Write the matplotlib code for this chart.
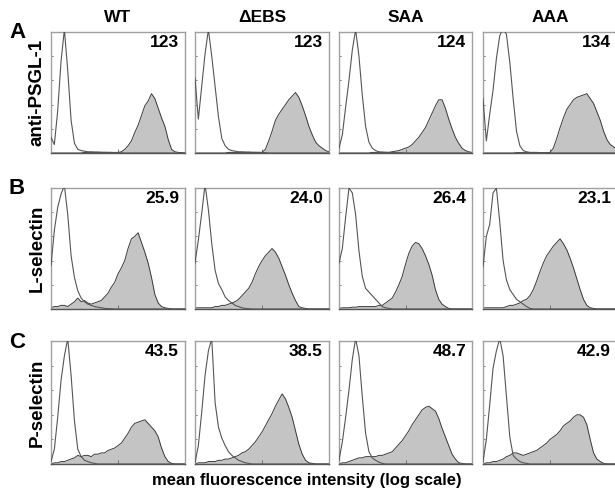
import numpy as np
import matplotlib.pyplot as plt

plt.rcParams['font.family'] = ['Liberation Sans', 'DejaVu Sans']

# histogram bins: log10 of fluorescence intensity, 4 decades
log_bins = np.round(np.arange(0, 4.01, 0.1), 1)

genotypes = ['WT', '\u0394EBS', 'SAA', 'AAA']
stains = ['anti-PSGL-1', 'L-selectin', 'P-selectin']
row_letters = ['A', 'B', 'C']

# mean fluorescence intensity printed in each panel
mfi_psgl = ['123', '123', '124', '134']
mfi_lsel = ['25.9', '24.0', '26.4', '23.1']
mfi_psel = ['43.5', '38.5', '48.7', '42.9']

# cell counts per bin, % of panel height (control = open, stained = grey)
wt_psgl_ctrl = [13, 7, 35, 76, 102, 68, 27, 8, 3, 2,
                1.5, 1, 1, 0.8, 0.8, 0.6, 0.6, 0.5, 0.5, 0.3,
                0.3, 0.2]
wt_psgl = [0, 0, 0, 0, 0, 0, 0, 0, 0, 0,
           0.5, 0.5, 0.5, 0.5, 0.5, 0.5, 0.5, 0.5, 0.5, 0.5,
           0.5, 1, 3, 6, 10, 17, 23, 31, 39, 43,
           49, 45, 37, 29, 22, 11, 3, 1, 0.5, 0.3]
debs_psgl_ctrl = [62, 28, 55, 82, 102, 80, 55, 30, 12, 6,
                  3, 2, 1.5, 1, 1, 0.8, 0.8, 0.6, 0.6, 0.5,
                  0.5, 0.3]
debs_psgl = [0, 0, 0, 0, 0, 0, 0, 0, 0, 0,
             0.5, 0.5, 0.5, 0.5, 0.5, 0.5, 0.5, 0.5, 0.5, 0.5,
             0.5, 3, 10, 18, 27, 32, 36, 40, 44, 47,
             50, 46, 39, 31, 22, 15, 9, 6, 4, 2,
             1]
saa_psgl_ctrl = [4, 15, 38, 60, 85, 102, 80, 48, 22, 9,
                 4, 2, 1, 0.8, 0.6, 0.5, 0.5, 0.3, 0.3, 0.2]
saa_psgl = [0, 0, 0, 0, 0, 0, 0, 0, 0, 0,
            0.5, 0.5, 0.5, 0.5, 0.5, 0.5, 1, 1.5, 2, 3,
            4, 5, 7, 10, 13, 17, 21, 27, 33, 39,
            44, 44, 37, 28, 20, 13, 8, 4, 2, 1,
            0.5]
aaa_psgl_ctrl = [45, 10, 32, 52, 78, 97, 103, 98, 75, 45,
                 18, 6, 2, 1, 0.5, 0.5, 0.5, 0.3, 0.3, 0.3]
aaa_psgl = [0, 0, 0, 0, 0, 0, 0, 0, 0, 0,
            0.3, 0.3, 0.3, 0.3, 0.3, 0.3, 0.3, 0.3, 0.3, 0.3,
            0.5, 4, 12, 21, 29, 36, 40, 44, 46, 47,
            48, 49, 45, 41, 34, 27, 18, 11, 7, 5,
            3]

wt_lsel_ctrl = [36, 65, 84, 95, 102, 78, 44, 26, 15, 9,
                6, 4, 3, 2, 1.5, 1, 0.5, 0.3, 0.2]
wt_lsel = [1, 2, 2, 3, 3, 2, 4, 6, 9, 6,
           7, 5, 4, 5, 6, 7, 10, 13, 18, 22,
           29, 34, 40, 50, 58, 60, 63, 55, 47, 38,
           26, 12, 5, 2, 1, 0.5]
debs_lsel_ctrl = [38, 57, 79, 103, 82, 54, 32, 21, 16, 10,
                  7, 5, 3, 2, 1, 0.5, 0.3]
debs_lsel = [1, 1, 1, 1, 1, 1, 2, 2, 3, 3,
             4, 5, 6, 8, 11, 14, 17, 22, 29, 35,
             40, 44, 47, 50, 47, 42, 35, 28, 20, 13,
             7, 2, 1, 0.5]
saa_lsel_ctrl = [38, 50, 76, 100, 96, 78, 48, 27, 17, 14,
                 11, 8, 5, 2, 1, 0.5]
saa_lsel = [0.5, 1, 1, 1, 1.5, 1.5, 2, 2, 2, 2,
            2, 2, 3, 3, 5, 7, 9, 14, 20, 27,
            37, 46, 52, 55, 54, 50, 44, 37, 28, 16,
            8, 4, 2, 0.5]
aaa_lsel_ctrl = [35, 60, 70, 96, 100, 72, 40, 24, 16, 12,
                 8, 6, 4, 2, 0.5]
aaa_lsel = [1, 1, 1, 1, 1, 1, 1, 2, 3, 3,
            4, 5, 7, 8, 11, 16, 23, 31, 38, 44,
            48, 52, 55, 58, 54, 49, 42, 34, 25, 16,
            8, 3, 1, 0.5]

wt_psel_ctrl = [2, 12, 38, 68, 88, 102, 72, 35, 12, 6,
                3, 2, 1, 0.5]
wt_psel = [0, 1, 1, 2, 2, 3, 4, 5, 7, 6,
           7, 7, 6, 8, 8, 9, 9, 11, 12, 13,
           15, 17, 21, 25, 30, 33, 34, 35, 36, 33,
           30, 27, 22, 13, 6, 2, 0.5]
debs_psel_ctrl = [1, 15, 42, 72, 92, 102, 50, 30, 21, 15,
                  10, 7, 5, 3, 2, 1, 0.5]
debs_psel = [0, 1, 1, 1, 2, 2, 2, 3, 3, 4,
             4, 5, 6, 7, 9, 10, 12, 15, 18, 22,
             26, 31, 36, 41, 47, 52, 57, 53, 46, 38,
             27, 16, 8, 3, 1, 0.5]
saa_psel_ctrl = [3, 18, 38, 60, 85, 102, 88, 55, 25, 10,
                 5, 3, 1.5, 0.5]
saa_psel = [0, 1, 1, 2, 3, 4, 5, 5, 6, 6,
            6, 6, 7, 7, 8, 9, 10, 13, 16, 19,
            23, 27, 32, 36, 40, 44, 46, 47, 45, 43,
            37, 29, 22, 15, 8, 4, 1, 0.5]
aaa_psel_ctrl = [2, 20, 48, 78, 92, 102, 88, 55, 22, 7,
                 4, 2, 1, 0.5]
aaa_psel = [0, 1, 1, 2, 2, 3, 4, 6, 7, 9,
            9, 8, 7, 8, 9, 10, 11, 13, 15, 17,
            20, 22, 24, 27, 31, 33, 35, 38, 40, 40,
            38, 32, 20, 9, 4, 2, 0.5]


def to_bins(values):
    """ pad a list of counts with empty bins up to the full range """
    v = np.zeros(len(log_bins))
    v[:len(values)] = values
    return v


panels = [
    [(wt_psgl_ctrl, wt_psgl), (debs_psgl_ctrl, debs_psgl),
     (saa_psgl_ctrl, saa_psgl), (aaa_psgl_ctrl, aaa_psgl)],
    [(wt_lsel_ctrl, wt_lsel), (debs_lsel_ctrl, debs_lsel),
     (saa_lsel_ctrl, saa_lsel), (aaa_lsel_ctrl, aaa_lsel)],
    [(wt_psel_ctrl, wt_psel), (debs_psel_ctrl, debs_psel),
     (saa_psel_ctrl, saa_psel), (aaa_psel_ctrl, aaa_psel)],
]
mfi = [mfi_psgl, mfi_lsel, mfi_psel]

W, H = 615, 491
fig = plt.figure(figsize=(W / 100, H / 100), dpi=100)

col_left = [51, 195, 339, 483]
col_width = [134, 134, 133, 134]
row_top = [32, 188, 341]
row_height = [121, 121, 123]

intensity = 10 ** log_bins

for r in range(3):
    for c in range(4):
        l, t, w, h = col_left[c], row_top[r], col_width[c], row_height[r]
        ax = fig.add_axes([l / W, 1 - (t + h) / H, w / W, h / H])
        ctrl, stained = panels[r][c]
        ax.fill_between(intensity, to_bins(stained), color='#c4c4c4',
                        lw=0, zorder=1)
        ax.plot(intensity, to_bins(stained), color='#3a3a3a', lw=0.7, zorder=2)
        ax.plot(intensity, to_bins(ctrl), color='#555555', lw=0.8, zorder=3)
        ax.set_xscale('log')
        ax.set_xlim(1, 1e4)
        ax.set_ylim(0, 100)
        ax.set_yticks(np.arange(0, 101, 20))
        ax.tick_params(which='both', direction='in', labelbottom=False,
                       labelleft=False, color='#666666', width=0.6)
        ax.tick_params(which='major', length=3)
        ax.tick_params(which='minor', length=1.8)
        ax.tick_params(axis='y', length=1.5)
        for side in ['top', 'right', 'left']:
            ax.spines[side].set_color('#a0a0a0')
            ax.spines[side].set_linewidth(1.0)
        ax.spines['bottom'].set_color('#555555')
        ax.spines['bottom'].set_linewidth(1.0)
        ax.text(1 - 6 / w, 1 - 3 / h, mfi[r][c], transform=ax.transAxes,
                ha='right', va='top', fontsize=12.5, fontweight='bold')
        if r == 0:
            fig.text((l + w / 2) / W, 1 - 18 / H, genotypes[c], ha='center',
                     va='center', fontsize=12.5, fontweight='bold')
    fig.text(37 / W, 1 - (row_top[r] + row_height[r] / 2) / H, stains[r],
             rotation=90, ha='center', va='center', fontsize=13.5,
             fontweight='bold')
    fig.text(17 / W, 1 - (row_top[r] + 1) / H, row_letters[r], ha='center',
             va='center', fontsize=16, fontweight='bold')

fig.text(307 / W, 1 - 480 / H, 'mean fluorescence intensity (log scale)',
         ha='center', va='center', fontsize=12, fontweight='bold')

fig.savefig('out.png', dpi=100)
